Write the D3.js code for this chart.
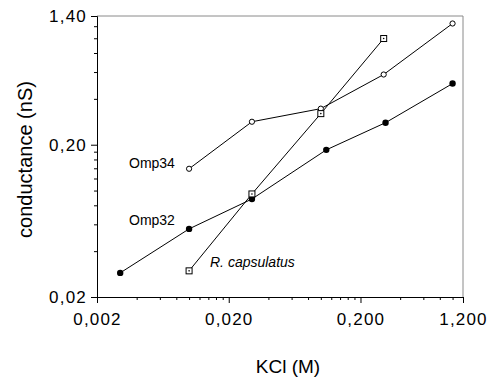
<!DOCTYPE html>
<html>
<head>
<meta charset="utf-8">
<script src="https://cdn.jsdelivr.net/npm/d3@7"></script>
<style>
  body { margin: 0; background: #fff; }
  text { font-family: Arial, "Liberation Sans", sans-serif; fill: #000; }
</style>
</head>
<body>
<div id="chart"></div>
<script>
// KCl concentration (M) vs conductance (nS), log-log
const omp34X = [0.01, 0.03, 0.1, 0.3, 1.0];
const omp34Y = [0.139, 0.283, 0.345, 0.578, 1.25];

const omp32X = [0.003, 0.01, 0.03, 0.11, 0.31, 1.0];
const omp32Y = [0.0288, 0.056, 0.088, 0.185, 0.279, 0.504];

const rcapsX = [0.01, 0.03, 0.1, 0.3];
const rcapsY = [0.0297, 0.095, 0.32, 0.996];

const xTicks = [0.002, 0.02, 0.2, 1.2];
const xTickLabels = ['0,002', '0,020', '0,200', '1,200'];
const xMinor = [0.004, 0.006, 0.008, 0.01, 0.012, 0.014, 0.016, 0.018,
                0.04, 0.06, 0.08, 0.1, 0.12, 0.14, 0.16, 0.18,
                0.4, 0.6, 0.8, 1.0];

const yTicks = [0.02, 0.2, 1.4];
const yTickLabels = ['0,02', '0,20', '1,40'];
const yMinor = [0.04, 0.06, 0.08, 0.1, 0.12, 0.14, 0.16, 0.18,
                0.4, 0.6, 0.8, 1.0, 1.2];

const width = 495, height = 378;
const plot = { left: 97, right: 463, top: 16, bottom: 297 };

const svg = d3.select('#chart')
    .append('svg')
    .attr('width', width)
    .attr('height', height);

const x = d3.scaleLog().domain([0.002, 1.2]).range([plot.left, plot.right]);
const y = d3.scaleLog().domain([0.02, 1.4]).range([plot.bottom, plot.top]);

// frame (top/right in grey)
svg.append('path')
    .attr('d', `M${plot.left},${plot.top}H${plot.right}V${plot.bottom}`)
    .attr('fill', 'none')
    .attr('stroke', '#8a8a8a')
    .attr('stroke-width', 1);

// minor ticks
svg.append('g')
    .attr('transform', `translate(0,${plot.bottom})`)
    .call(d3.axisBottom(x).tickValues(xMinor).tickSize(3).tickFormat(''))
    .call(g => g.select('.domain').remove());

svg.append('g')
    .attr('transform', `translate(${plot.left},0)`)
    .call(d3.axisLeft(y).tickValues(yMinor).tickSize(3).tickFormat(''))
    .call(g => g.select('.domain').remove());

// major axes
const xAxis = svg.append('g')
    .attr('transform', `translate(0,${plot.bottom})`)
    .call(d3.axisBottom(x).tickValues(xTicks).tickSizeOuter(0).tickSize(6).tickPadding(10)
        .tickFormat((d, i) => xTickLabels[i]));

const yAxis = svg.append('g')
    .attr('transform', `translate(${plot.left},0)`)
    .call(d3.axisLeft(y).tickValues(yTicks).tickSizeOuter(0).tickSize(6).tickPadding(4)
        .tickFormat((d, i) => yTickLabels[i]));

[xAxis, yAxis].forEach(a => {
    a.selectAll('text')
        .style('font-size', '17px')
        .style('letter-spacing', '1.2px')
        .style('font-family', 'Arial, "Liberation Sans", sans-serif');
    a.select('.domain').attr('stroke', '#000');
});

// axis titles
svg.append('text')
    .attr('transform', `translate(32,${(plot.top + plot.bottom) / 2 + 3}) rotate(-90)`)
    .attr('text-anchor', 'middle')
    .style('font-size', '20px')
    .text('conductance (nS)');

svg.append('text')
    .attr('x', 288)
    .attr('y', 373)
    .attr('text-anchor', 'middle')
    .style('font-size', '19px')
    .text('KCl (M)');

// lines
const line = d3.line().x(d => x(d[0])).y(d => y(d[1]));
const series = [
    { name: 'Omp34', pts: d3.zip(omp34X, omp34Y), marker: 'open' },
    { name: 'Omp32', pts: d3.zip(omp32X, omp32Y), marker: 'filled' },
    { name: 'rcaps', pts: d3.zip(rcapsX, rcapsY), marker: 'square' }
];

series.forEach(s => {
    svg.append('path')
        .datum(s.pts)
        .attr('d', line)
        .attr('fill', 'none')
        .attr('stroke', '#000')
        .attr('stroke-width', 1);
});

series.forEach(s => {
    const g = svg.append('g');
    if (s.marker === 'open') {
        g.selectAll('circle').data(s.pts).enter().append('circle')
            .attr('cx', d => x(d[0])).attr('cy', d => y(d[1]))
            .attr('r', 2.6).attr('fill', '#fff').attr('stroke', '#000');
    } else if (s.marker === 'filled') {
        g.selectAll('circle').data(s.pts).enter().append('circle')
            .attr('cx', d => x(d[0])).attr('cy', d => y(d[1]))
            .attr('r', 3.2).attr('fill', '#000');
    } else {
        g.selectAll('rect').data(s.pts).enter().append('rect')
            .attr('x', d => x(d[0]) - 3).attr('y', d => y(d[1]) - 3)
            .attr('width', 6).attr('height', 6)
            .attr('fill', '#fff').attr('stroke', '#000');
        g.selectAll('circle').data(s.pts).enter().append('circle')
            .attr('cx', d => x(d[0])).attr('cy', d => y(d[1]))
            .attr('r', 0.8).attr('fill', '#000');
    }
});

// series labels
svg.append('text').attr('x', 129).attr('y', 168).style('font-size', '14px').text('Omp34');
svg.append('text').attr('x', 129).attr('y', 225).style('font-size', '14px').text('Omp32');
svg.append('text').attr('x', 210).attr('y', 267).style('font-size', '14px')
    .style('font-style', 'italic').text('R. capsulatus');
</script>
</body>
</html>
